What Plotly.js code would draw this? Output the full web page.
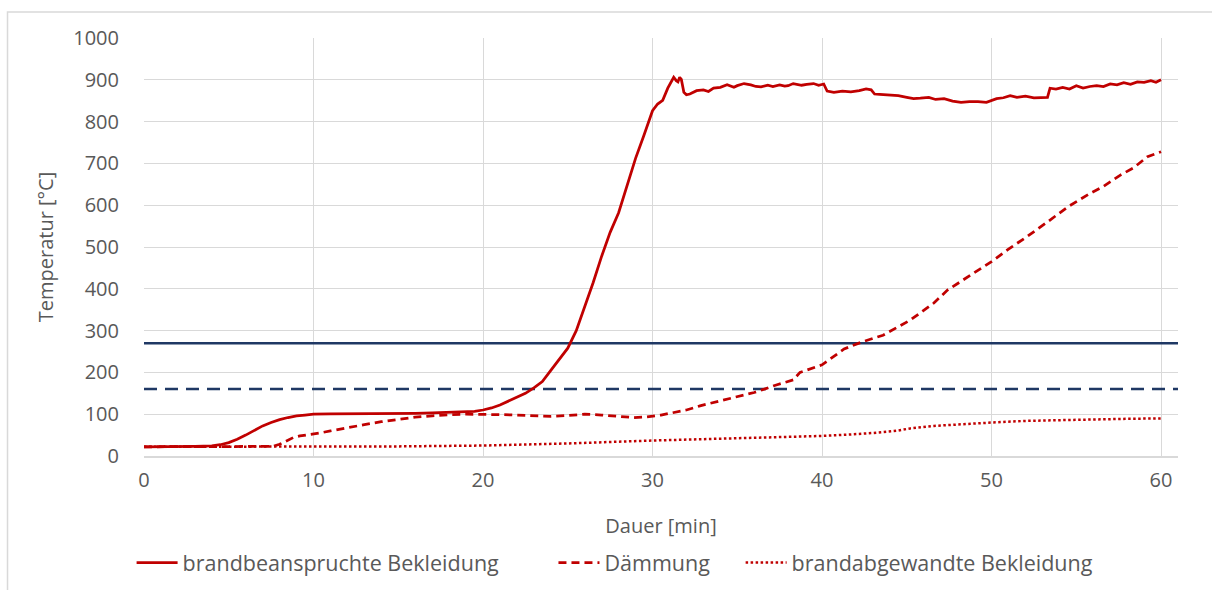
<!DOCTYPE html>
<html>
<head>
<meta charset="utf-8">
<script src="https://cdn.plot.ly/plotly-3.0.1.min.js"></script>
<style>
  html, body { margin: 0; padding: 0; background: #ffffff; }
  #chart { width: 1212px; height: 590px; }
</style>
</head>
<body>
<div id="chart"></div>
<script>
// Brandversuch: Temperaturverlauf über die Versuchsdauer
const seriesNames = ['brandbeanspruchte Bekleidung', 'Dämmung', 'brandabgewandte Bekleidung'];

// brandbeanspruchte Bekleidung
const tExposed = [0, 1, 2, 3, 4, 4.5, 5, 5.5, 6, 6.5, 7, 7.5, 8, 8.5, 9, 9.5, 10, 11, 12, 13, 14, 15, 16, 17, 18, 19, 19.5, 20, 20.5, 21, 21.5, 22, 22.5, 23, 23.5, 24, 24.5, 25, 25.5, 26, 26.5, 27, 27.5, 28, 28.5, 29, 29.5, 30, 30.3, 30.6, 30.9, 31.1, 31.25, 31.4, 31.5, 31.6, 31.7, 31.85, 32.0, 32.2, 32.6, 33.0, 33.3, 33.6, 34.0, 34.4, 34.8, 35.0, 35.4, 35.8, 36.1, 36.4, 36.8, 37.1, 37.5, 37.8, 38.0, 38.3, 38.8, 39.1, 39.5, 39.8, 40.1, 40.3, 40.7, 41.2, 41.7, 42.2, 42.6, 42.9, 43.1, 43.4, 44.0, 44.5, 45.0, 45.4, 45.8, 46.3, 46.7, 47.2, 47.7, 48.2, 48.7, 49.2, 49.7, 50.0, 50.3, 50.7, 51.1, 51.5, 52.0, 52.5, 53.0, 53.3, 53.45, 53.8, 54.2, 54.6, 55.0, 55.4, 55.8, 56.2, 56.6, 57.0, 57.4, 57.8, 58.2, 58.6, 59.0, 59.4, 59.7, 60.0];
const vExposed = [22, 22, 22, 23, 24, 27, 32, 40, 50, 62, 72, 80, 87, 92, 96, 98, 100, 101, 101, 102, 102, 102, 102, 103, 104, 105, 107, 110, 115, 122, 131, 141, 150, 163, 178, 205, 232, 258, 300, 355, 415, 478, 535, 582, 648, 712, 768, 826, 842, 851, 880, 895, 906, 898, 895, 906, 901, 870, 864, 866, 874, 876, 872, 880, 882, 888, 882, 886, 891, 888, 884, 883, 887, 884, 888, 885, 886, 891, 887, 889, 891, 887, 890, 873, 870, 873, 871, 874, 878, 876, 866, 865, 864, 862, 858, 855, 856, 858, 853, 855, 849, 846, 848, 848, 846, 850, 855, 857, 862, 858, 861, 857, 858, 858, 880, 878, 882, 878, 886, 880, 884, 886, 884, 890, 888, 893, 889, 895, 894, 898, 894, 900];

// Dämmung
const tInsulation = [0, 2, 4, 6, 7, 7.6, 8, 8.4, 8.8, 9.2, 10, 10.5, 11, 11.5, 12.2, 13, 14, 15, 16, 17, 18, 19, 20, 21, 22, 23, 24, 25, 26, 27, 28, 28.9, 29.5, 30, 30.5, 31, 32, 32.8, 34, 35, 36, 36.6, 37.3, 38.3, 38.7, 40, 41.3, 42.3, 43.6, 45.2, 46.6, 47.4, 48.5, 50, 51, 52.1, 53.3, 54.5, 55.8, 56.6, 57.6, 58.4, 59.2, 59.6, 60];
const vInsulation = [22, 22, 22, 22, 22, 23, 28, 36, 44, 48, 52, 56, 60, 64, 70, 75, 82, 88, 93, 96, 99, 100, 100, 99, 98, 97, 95, 97, 100, 98, 94, 92, 93, 95, 98, 102, 110, 120, 132, 142, 152, 160, 170, 182, 200, 218, 256, 272, 289, 325, 366, 397, 425, 465, 495, 525, 560, 596, 628, 645, 672, 690, 716, 722, 728];

// brandabgewandte Bekleidung
const tUnexposed = [0, 5, 10, 15, 20, 25, 30, 35, 38, 40, 41.5, 43, 44.5, 45.2, 46.6, 48, 50, 52, 54, 56, 58, 60];
const vUnexposed = [22, 22, 22, 23, 25, 30, 37, 42, 45, 48, 51, 55, 61, 66, 72, 76, 80, 84, 86, 88, 89, 90];

// Grenztemperaturen (waagerechte Bezugslinien)
const limitRange = [0, 61];
const limitHigh = [270, 270];
const limitLow = [160, 160];

const red = '#C00000';
const navy = '#1F3864';
const grey = '#595959';
const gridGrey = '#D9D9D9';
const font = 'Open Sans, Noto Sans, sans-serif';

const traces = [
  { x: limitRange, y: limitHigh, mode: 'lines', showlegend: false, hoverinfo: 'skip',
    line: { color: navy, width: 2.5 } },
  { x: limitRange, y: limitLow, mode: 'lines', showlegend: false, hoverinfo: 'skip',
    line: { color: navy, width: 2.5, dash: '13px,8px' } },
  { x: tExposed, y: vExposed, name: seriesNames[0], mode: 'lines', legend: 'legend',
    line: { color: red, width: 2.75 } },
  { x: tInsulation, y: vInsulation, name: seriesNames[1], mode: 'lines', legend: 'legend2',
    line: { color: red, width: 2.75, dash: '8px,5px' } },
  { x: tUnexposed, y: vUnexposed, name: seriesNames[2], mode: 'lines', legend: 'legend3',
    line: { color: red, width: 2.5, dash: '2.5px,2.5px' } }
];

const legendBase = {
  orientation: 'h', yanchor: 'middle', xanchor: 'left', y: -0.255,
  bgcolor: 'rgba(0,0,0,0)', borderwidth: 0, itemwidth: 41,
  font: { family: font, size: 21.5, color: grey }
};

const layout = {
  width: 1212, height: 590,
  margin: { l: 144, r: 34, t: 38, b: 134, autoexpand: false },
  paper_bgcolor: '#ffffff', plot_bgcolor: '#ffffff',
  font: { family: font, size: 20, color: grey },
  xaxis: {
    range: [0, 61], tickvals: [0, 10, 20, 30, 40, 50, 60],
    showgrid: true, gridcolor: gridGrey, gridwidth: 1,
    zeroline: false, showline: true, linecolor: gridGrey, linewidth: 1.5,
    ticks: '', ticklabelstandoff: 5, automargin: false,
    tickfont: { family: font, size: 20, color: grey },
    title: { text: 'Dauer [min]', font: { family: font, size: 20, color: grey }, standoff: 27 }
  },
  yaxis: {
    range: [0, 1000], tickvals: [0, 100, 200, 300, 400, 500, 600, 700, 800, 900, 1000],
    showgrid: true, gridcolor: gridGrey, gridwidth: 1,
    zeroline: false, showline: false, automargin: false,
    ticks: '', ticklabelstandoff: 24,
    tickfont: { family: font, size: 20, color: grey },
    title: { text: 'Temperatur [°C]', font: { family: font, size: 20, color: grey }, standoff: 14 }
  },
  legend: Object.assign({}, legendBase, { x: -0.012 }),
  legend2: Object.assign({}, legendBase, { x: 0.396 }),
  legend3: Object.assign({}, legendBase, { x: 0.577 }),
  shapes: [
    { type: 'rect', xref: 'paper', yref: 'paper', x0: -0.132, x1: 1.06, y0: -0.4, y1: 1.062,
      line: { color: gridGrey, width: 1.5 }, fillcolor: 'rgba(0,0,0,0)', layer: 'below' }
  ],
  showlegend: true
};

Plotly.newPlot('chart', traces, layout, { displayModeBar: false, staticPlot: true });
</script>
</body>
</html>
